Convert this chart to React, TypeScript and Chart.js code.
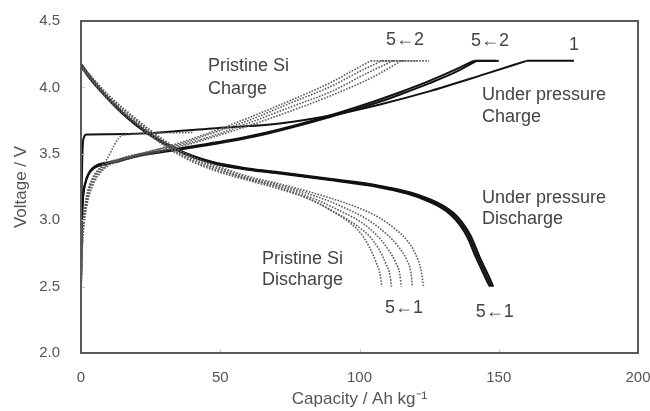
import React, { useEffect, useRef } from "react";
import { Chart, registerables } from "chart.js";
Chart.register(...registerables);

// ---------- Axis ticks ----------
const X_TICKS = [0, 50, 100, 150, 200];
const Y_TICKS = [2.0, 2.5, 3.0, 3.5, 4.0, 4.5];

// ---------- Under pressure (solid) ----------
const UP_DIS1_CAP = [0, 3, 8, 15, 24, 35, 47, 60, 72, 90, 107, 118, 125, 130, 134, 137, 140, 143, 145, 147, 148];
const UP_DIS1_V = [4.18, 4.09, 3.96, 3.81, 3.66, 3.53, 3.44, 3.39, 3.36, 3.31, 3.26, 3.21, 3.16, 3.11, 3.05, 2.98, 2.88, 2.73, 2.64, 2.55, 2.5];
const UP_DIS3_CAP = [0, 3, 8, 15, 24, 35, 47, 60, 72, 90, 107, 117.5, 124.4, 129.4, 133.4, 136.4, 139.4, 142.4, 144.4, 146.4, 147.4];
const UP_DIS3_V = [4.17, 4.08, 3.955, 3.805, 3.655, 3.525, 3.435, 3.385, 3.355, 3.305, 3.255, 3.205, 3.155, 3.105, 3.045, 2.975, 2.875, 2.725, 2.635, 2.545, 2.5];
const UP_DIS5_CAP = [0, 3, 8, 15, 24, 35, 47, 60, 72, 90, 106.5, 117, 123.8, 128.8, 132.8, 135.8, 138.8, 141.8, 143.8, 145.8, 146.8];
const UP_DIS5_V = [4.16, 4.07, 3.95, 3.8, 3.65, 3.52, 3.43, 3.38, 3.35, 3.3, 3.25, 3.2, 3.15, 3.1, 3.04, 2.97, 2.87, 2.72, 2.63, 2.54, 2.5];

const UP_CH1_CAP = [0, 0.3, 0.6, 1, 2, 10, 24, 47, 72, 90, 107, 125, 145, 160];
const UP_CH1_V = [2.8, 3.3, 3.55, 3.62, 3.645, 3.648, 3.655, 3.69, 3.73, 3.79, 3.87, 3.97, 4.1, 4.2];
const UP_CH1_HOLD_CAP = [160, 177];
const UP_CH1_HOLD_V = [4.2, 4.2];
const UP_CH2_CAP = [0, 0.3, 0.7, 1.5, 4, 11, 20, 35, 60, 83, 107, 115, 125, 135, 142];
const UP_CH2_V = [2.5, 2.95, 3.15, 3.27, 3.38, 3.43, 3.48, 3.53, 3.62, 3.74, 3.89, 3.95, 4.03, 4.12, 4.2];
const UP_CH2_HOLD_CAP = [142, 150];
const UP_CH2_HOLD_V = [4.2, 4.2];
const UP_CH5_CAP = [0, 0.3, 0.7, 1.5, 4, 11, 20, 35, 60, 83, 106, 114, 124, 134, 141];
const UP_CH5_V = [2.5, 2.97, 3.17, 3.28, 3.39, 3.44, 3.49, 3.54, 3.63, 3.75, 3.9, 3.96, 4.04, 4.13, 4.2];
const UP_CH5_HOLD_CAP = [141, 149];
const UP_CH5_HOLD_V = [4.2, 4.2];

// ---------- Pristine Si (dotted) ----------
const PR_DIS1_CAP = [0, 5, 10, 20, 30, 40, 50, 60, 72, 89, 100, 107, 113, 117, 120, 122, 123];
const PR_DIS1_V = [4.17, 4.05, 3.94, 3.76, 3.6, 3.48, 3.4, 3.33, 3.27, 3.17, 3.09, 3.02, 2.93, 2.85, 2.75, 2.63, 2.5];
const PR_DIS2_CAP = [0, 5, 10, 20, 30, 40, 50, 60, 72, 87, 97, 104, 110, 114, 117, 118.5, 119];
const PR_DIS2_V = [4.17, 4.05, 3.93, 3.75, 3.59, 3.47, 3.39, 3.32, 3.26, 3.16, 3.07, 2.99, 2.89, 2.8, 2.7, 2.6, 2.5];
const PR_DIS3_CAP = [0, 5, 10, 20, 30, 40, 50, 60, 72, 85, 94, 101, 106, 110, 113, 114.5, 115];
const PR_DIS3_V = [4.16, 4.04, 3.92, 3.74, 3.58, 3.46, 3.38, 3.31, 3.25, 3.15, 3.06, 2.98, 2.89, 2.79, 2.68, 2.59, 2.5];
const PR_DIS4_CAP = [0, 5, 10, 20, 30, 40, 50, 60, 72, 84, 92, 99, 103.5, 107, 109.5, 111, 111.5];
const PR_DIS4_V = [4.16, 4.03, 3.91, 3.73, 3.57, 3.45, 3.37, 3.31, 3.24, 3.14, 3.05, 2.96, 2.88, 2.78, 2.67, 2.58, 2.5];
const PR_DIS5_CAP = [0, 5, 10, 20, 30, 40, 50, 60, 72, 83, 90, 96, 100.5, 103.5, 106, 107.5, 108];
const PR_DIS5_V = [4.15, 4.02, 3.9, 3.72, 3.56, 3.44, 3.36, 3.3, 3.23, 3.15, 3.07, 2.99, 2.9, 2.8, 2.68, 2.58, 2.5];

const PR_CH1_CAP = [0, 0.5, 1.5, 3, 9, 15, 40];
const PR_CH1_V = [2.5, 2.9, 3.1, 3.25, 3.45, 3.64, 3.66];
const PR_CH2_CAP = [0, 0.5, 1, 2, 4, 8, 15, 25, 35, 45, 60, 75, 90, 105, 115];
const PR_CH2_V = [2.5, 2.8, 2.95, 3.1, 3.25, 3.38, 3.45, 3.5, 3.55, 3.61, 3.71, 3.82, 3.94, 4.08, 4.2];
const PR_CH2_HOLD_CAP = [115, 125];
const PR_CH2_HOLD_V = [4.2, 4.2];
const PR_CH3_CAP = [0, 0.5, 1, 2, 4, 8, 15, 25, 35, 45, 60, 75, 90, 102, 112];
const PR_CH3_V = [2.5, 2.83, 2.98, 3.12, 3.27, 3.39, 3.46, 3.51, 3.56, 3.62, 3.73, 3.85, 3.97, 4.1, 4.2];
const PR_CH3_HOLD_CAP = [112, 121];
const PR_CH3_HOLD_V = [4.2, 4.2];
const PR_CH4_CAP = [0, 0.5, 1, 2, 4, 8, 15, 25, 35, 45, 60, 75, 90, 100, 108];
const PR_CH4_V = [2.5, 2.86, 3.0, 3.15, 3.29, 3.4, 3.46, 3.52, 3.57, 3.64, 3.75, 3.88, 4.01, 4.12, 4.2];
const PR_CH4_HOLD_CAP = [108, 116];
const PR_CH4_HOLD_V = [4.2, 4.2];
const PR_CH5_CAP = [0, 0.5, 1, 2, 4, 8, 15, 25, 35, 45, 60, 75, 90, 97, 104];
const PR_CH5_V = [2.5, 2.9, 3.04, 3.18, 3.31, 3.41, 3.47, 3.52, 3.58, 3.65, 3.77, 3.9, 4.04, 4.12, 4.2];
const PR_CH5_HOLD_CAP = [104, 112];
const PR_CH5_HOLD_V = [4.2, 4.2];

// ---------- Annotations (data coordinates) ----------
const NOTE_TEXT = ["Pristine Si", "Charge", "Under pressure", "Charge", "Under pressure", "Discharge", "Pristine Si", "Discharge", "5\u21902", "5\u21902", "1", "5\u21901", "5\u21901"];
const NOTE_X = [45.6, 45.6, 144, 144, 144, 144, 65, 65, 116.3, 146.9, 177, 116, 148.6];
const NOTE_Y = [4.16, 3.99, 3.94, 3.78, 3.17, 3.01, 2.71, 2.55, 4.355, 4.35, 4.32, 2.34, 2.31];
const NOTE_ALIGN = ["left", "left", "left", "left", "left", "left", "left", "left", "center", "center", "center", "center", "center"];

const solid = [
  [UP_DIS1_CAP, UP_DIS1_V], [UP_DIS3_CAP, UP_DIS3_V], [UP_DIS5_CAP, UP_DIS5_V],
  [UP_CH1_CAP, UP_CH1_V], [UP_CH2_CAP, UP_CH2_V], [UP_CH5_CAP, UP_CH5_V],
  [UP_CH1_HOLD_CAP, UP_CH1_HOLD_V], [UP_CH2_HOLD_CAP, UP_CH2_HOLD_V], [UP_CH5_HOLD_CAP, UP_CH5_HOLD_V],
];
const dotted = [
  [PR_DIS1_CAP, PR_DIS1_V], [PR_DIS2_CAP, PR_DIS2_V], [PR_DIS3_CAP, PR_DIS3_V],
  [PR_DIS4_CAP, PR_DIS4_V], [PR_DIS5_CAP, PR_DIS5_V],
  [PR_CH1_CAP, PR_CH1_V], [PR_CH2_CAP, PR_CH2_V], [PR_CH3_CAP, PR_CH3_V],
  [PR_CH4_CAP, PR_CH4_V], [PR_CH5_CAP, PR_CH5_V],
  [PR_CH2_HOLD_CAP, PR_CH2_HOLD_V], [PR_CH3_HOLD_CAP, PR_CH3_HOLD_V],
  [PR_CH4_HOLD_CAP, PR_CH4_HOLD_V], [PR_CH5_HOLD_CAP, PR_CH5_HOLD_V],
];

const toPts = (xs: number[], ys: number[]) => xs.map((x, i) => ({ x, y: ys[i] }));

const FONT = "'Liberation Sans', Arial, sans-serif";
const TEXT_COLOR = "#444444";

const framePlugin = {
  id: "frame",
  afterDatasetsDraw(chart: any) {
    const { ctx, chartArea: a, scales } = chart;
    ctx.save();
    ctx.strokeStyle = "#c8c8c8";
    ctx.lineWidth = 1;
    X_TICKS.slice(1, -1).forEach((t) => {
      const px = Math.round(scales.x.getPixelForValue(t)) + 0.5;
      ctx.beginPath();
      ctx.moveTo(px, a.bottom);
      ctx.lineTo(px, a.bottom - 4);
      ctx.stroke();
    });
    Y_TICKS.slice(1, -1).forEach((t) => {
      const py = Math.round(scales.y.getPixelForValue(t)) + 0.5;
      ctx.beginPath();
      ctx.moveTo(a.left, py);
      ctx.lineTo(a.left + 4, py);
      ctx.stroke();
    });
    ctx.strokeStyle = "#5a5a5a";
    ctx.lineWidth = 2;
    ctx.strokeRect(a.left, a.top, a.right - a.left, a.bottom - a.top);
    ctx.fillStyle = TEXT_COLOR;
    ctx.font = `18px ${FONT}`;
    ctx.textBaseline = "middle";
    NOTE_TEXT.forEach((t, i) => {
      ctx.textAlign = NOTE_ALIGN[i] as CanvasTextAlign;
      ctx.fillText(t, scales.x.getPixelForValue(NOTE_X[i]), scales.y.getPixelForValue(NOTE_Y[i]));
    });
    ctx.restore();
  },
};

export default function App() {
  const ref = useRef<HTMLCanvasElement>(null);
  useEffect(() => {
    const datasets: any[] = [];
    dotted.forEach(([xs, ys]) =>
      datasets.push({
        data: toPts(xs, ys),
        borderColor: "#5e5e5e",
        borderWidth: 1.6,
        borderDash: [1.6, 1.4],
        pointRadius: 0,
        cubicInterpolationMode: "monotone",
        fill: false,
      })
    );
    solid.forEach(([xs, ys]) =>
      datasets.push({
        data: toPts(xs, ys),
        borderColor: "#111111",
        borderWidth: 2,
        pointRadius: 0,
        cubicInterpolationMode: "monotone",
        fill: false,
      })
    );
    const chart = new Chart(ref.current!, {
      type: "line",
      data: { datasets },
      options: {
        responsive: false,
        animation: false,
        parsing: false as any,
        layout: { padding: { top: 21, right: 12, left: 0, bottom: 0 } },
        plugins: { legend: { display: false }, tooltip: { enabled: false } },
        scales: {
          x: {
            type: "linear",
            min: 0,
            max: 200,
            afterBuildTicks: (s: any) => { s.ticks = X_TICKS.map((v) => ({ value: v })); },
            afterFit: (s: any) => { s.height = 58; s.paddingLeft = 0; s.paddingRight = 0; },
            grid: { display: false },
            border: { display: false },
            ticks: { color: "#555", font: { family: FONT, size: 15 }, padding: 8, maxRotation: 0 },
            title: {
              display: true,
              text: "Capacity / Ah kg\u207B\u00B9",
              color: "#555",
              font: { family: FONT, size: 17 },
              padding: { top: 0, bottom: 1 },
            },
          },
          y: {
            type: "linear",
            min: 2,
            max: 4.5,
            afterBuildTicks: (s: any) => { s.ticks = Y_TICKS.map((v) => ({ value: v })); },
            afterFit: (s: any) => { s.width = 81; s.paddingTop = 0; s.paddingBottom = 0; },
            grid: { display: false },
            border: { display: false },
            ticks: {
              color: "#555",
              font: { family: FONT, size: 15 },
              padding: 13,
              callback: (v: any) => Number(v).toFixed(1),
            },
            title: {
              display: true,
              text: "Voltage / V",
              color: "#555",
              font: { family: FONT, size: 17 },
              padding: { top: 11, bottom: 0 },
            },
          },
        },
      },
      plugins: [framePlugin],
    });
    return () => chart.destroy();
  }, []);
  return (
    <div style={{ position: "fixed", left: 0, top: 0, width: 650, height: 411, background: "#fff" }}>
      <canvas ref={ref} width={650} height={411} style={{ display: "block" }} />
    </div>
  );
}
